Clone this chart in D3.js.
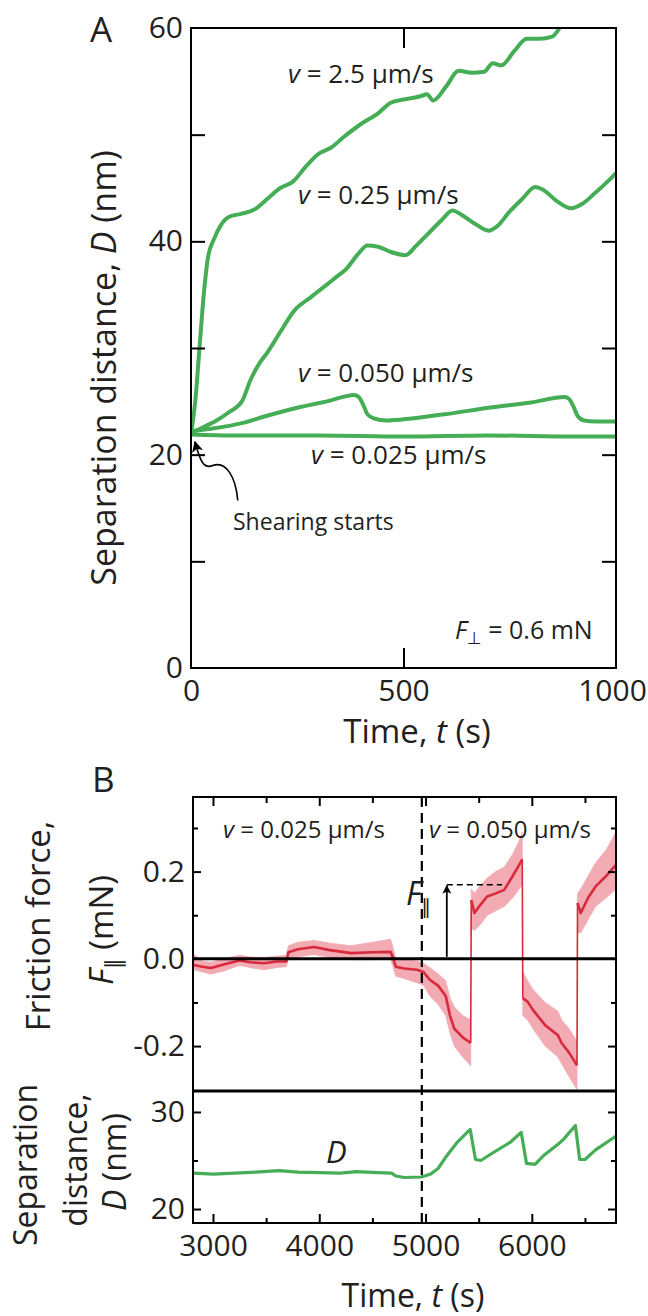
<!DOCTYPE html>
<html><head><meta charset="utf-8">
<script src="https://cdn.jsdelivr.net/npm/d3@7"></script>
<style>
body{margin:0;background:#fff}
svg{display:block}
text{font-family:"Open Sans",sans-serif;fill:#231f20}
</style>
</head><body>
<svg id="c" width="648" height="1316"></svg>
<script>
// ---------- Panel A data: time (s), separation distance D (nm) ----------
const curveV2_5 = [[0,22],[10,25],[20,30],[30,35],[40,38.5],[55,40.3],[70,41.5],[90,42.3],[120,42.6],[150,43],[180,44],[210,45],[240,45.6],[270,47],[300,48.2],[330,48.8],[360,49.8],[400,51],[440,52],[470,53],[500,53.3],[540,53.6],[555,53.8],[570,53.2],[600,54.5],[630,56],[660,55.8],[690,55.9],[710,56.7],[730,56.5],[760,57.8],[790,59],[820,59],[850,59.2],[870,60.2]];
const curveV0_25 = [[0,22],[30,22.6],[60,23.2],[90,24],[120,25],[140,27],[160,28.5],[180,29.6],[210,31.5],[245,33.6],[280,34.7],[315,35.8],[340,36.6],[365,37.4],[395,38.9],[415,39.6],[440,39.5],[470,39],[505,38.7],[530,39.6],[560,40.8],[590,42],[615,42.9],[640,42.4],[670,41.6],[700,41],[720,41.4],[750,42.8],[780,44],[810,45.1],[830,44.8],[860,43.8],[895,43.1],[920,43.5],[950,44.5],[980,45.6],[1000,46.4]];
const curveV0_050 = [[0,22.2],[40,22.4],[90,22.7],[125,23],[175,23.6],[250,24.4],[320,25],[385,25.6],[395,25.4],[405,24.7],[415,23.8],[430,23.4],[460,23.2],[520,23.4],[600,23.8],[700,24.4],[800,24.9],[880,25.4],[890,25.2],[900,24.5],[910,23.6],[925,23.2],[950,23.1],[1000,23.1]];
const curveV0_025 = [[0,21.9],[100,21.8],[300,21.8],[500,21.7],[700,21.8],[900,21.7],[1000,21.7]];
const tickValsA_y = [0,20,40,60];
const tickValsA_x = [0,500,1000];

// ---------- Panel B data: friction force [t, mean, low, high] (mN) ----------
const fricSeg1 = [[2820,-0.014,-0.025,0.01],[2900,-0.018,-0.03,-0.005],[2980,-0.021,-0.035,-0.008],[3100,-0.013,-0.028,0.0],[3250,-0.004,-0.015,0.008],[3350,-0.008,-0.02,0.004],[3480,-0.01,-0.025,0.003],[3600,-0.006,-0.02,0.006],[3690,-0.006,-0.018,0.008],[3710,0.015,0.0,0.03],[3800,0.022,0.005,0.038],[3950,0.027,0.01,0.042],[4100,0.02,0.003,0.036],[4300,0.013,-0.002,0.03],[4500,0.015,-0.002,0.038],[4670,0.016,0.0,0.045],[4690,0.005,-0.015,0.03],[4720,-0.018,-0.04,0.0],[4800,-0.022,-0.045,-0.002],[4920,-0.025,-0.055,-0.005],[4980,-0.03,-0.06,-0.01],[5040,-0.048,-0.085,-0.02],[5120,-0.062,-0.105,-0.035],[5190,-0.085,-0.13,-0.05],[5230,-0.13,-0.17,-0.09],[5270,-0.16,-0.2,-0.11],[5350,-0.18,-0.225,-0.13],[5425,-0.193,-0.245,-0.14]];
const fricSeg2 = [[5430,0.135,0.07,0.16],[5460,0.105,0.065,0.15],[5520,0.125,0.08,0.17],[5580,0.143,0.1,0.185],[5660,0.15,0.11,0.2],[5740,0.158,0.12,0.21],[5820,0.19,0.14,0.24],[5880,0.215,0.16,0.27],[5910,0.228,0.17,0.29]];
const fricSeg3 = [[5915,-0.09,-0.13,-0.03],[5960,-0.098,-0.14,-0.05],[6010,-0.117,-0.16,-0.07],[6125,-0.152,-0.2,-0.1],[6245,-0.175,-0.225,-0.12],[6280,-0.193,-0.24,-0.14],[6350,-0.215,-0.27,-0.16],[6425,-0.244,-0.3,-0.19]];
const fricSeg4 = [[6430,0.128,0.06,0.15],[6460,0.105,0.06,0.16],[6530,0.14,0.09,0.19],[6600,0.166,0.12,0.22],[6700,0.19,0.14,0.25],[6790,0.215,0.16,0.29]];
// ---------- Panel B data: separation distance [t, D (nm)] ----------
const distB = [[2820,23.7],[3000,23.6],[3200,23.7],[3400,23.8],[3620,23.95],[3800,23.8],[4000,23.75],[4200,23.7],[4350,23.85],[4550,23.75],[4680,23.7],[4720,23.4],[4800,23.25],[4960,23.3],[5050,23.6],[5120,24.2],[5200,25.5],[5300,26.9],[5420,28.2],[5470,25.1],[5520,25],[5650,25.9],[5800,26.9],[5900,27.9],[5950,24.7],[6030,24.6],[6120,25.6],[6250,26.7],[6300,27.2],[6410,28.6],[6450,25.1],[6500,25.1],[6600,26.1],[6790,27.5]];
const tickValsF = [-0.2,0.0,0.2];
const tickValsD = [20,30];
const tickValsB_x = [3000,4000,5000,6000];
const velocityChangeTime = 4965;
const fMarkerTime = 5200, fMarkerValue = 0.17, fMarkerEnd = 5720;

const GREEN = "#45ad55", RED = "#d82a3c", PINK = "#f2aab3";
const svg = d3.select("#c");
const defs = svg.append("defs");
defs.append("marker").attr("id","ah").attr("viewBox","0 0 10 10").attr("refX",9).attr("refY",5)
  .attr("markerWidth",5).attr("markerHeight",6).attr("orient","auto").attr("markerUnits","strokeWidth")
  .append("path").attr("d","M0,0 L10,5 L0,10 L2.5,5 Z").attr("fill","#000");
defs.append("marker").attr("id","ah2").attr("viewBox","0 0 10 10").attr("refX",9).attr("refY",5)
  .attr("markerWidth",7).attr("markerHeight",7).attr("orient","auto").attr("markerUnits","strokeWidth")
  .append("path").attr("d","M0,0 L10,5 L0,10 L2.5,5 Z").attr("fill","#000");

function ticks(g, axis){ g.call(axis); g.select(".domain").remove(); g.attr("color","#000"); g.selectAll("line").attr("stroke-width",2); g.selectAll("text").remove(); }
function labels(g, axis, size){ g.call(axis); g.select(".domain").remove(); g.selectAll("line").remove();
  g.selectAll("text").attr("font-family","Open Sans").attr("font-size",size).attr("fill","#231f20"); }

// ================= Panel A =================
const xA = d3.scaleLinear([0,1000],[191,616]);
const yA = d3.scaleLinear([0,60],[668,28]);
defs.append("clipPath").attr("id","clipA").append("rect").attr("x",191).attr("y",28).attr("width",425).attr("height",640);

const lineA = d3.line().x(d=>xA(d[0])).y(d=>yA(d[1])).curve(d3.curveMonotoneX);
const gA = svg.append("g").attr("clip-path","url(#clipA)");
[curveV2_5, curveV0_25, curveV0_050, curveV0_025].forEach(c=>{
  gA.append("path").attr("d",lineA(c)).attr("fill","none").attr("stroke",GREEN).attr("stroke-width",4).attr("stroke-linejoin","round");
});

svg.append("g").attr("transform","translate(191,0)").call(g=>ticks(g,d3.axisRight(yA).tickValues([10,20,30,40,50]).tickSize(14)));
svg.append("g").attr("transform","translate(616,0)").call(g=>ticks(g,d3.axisLeft(yA).tickValues([10,20,30,40,50]).tickSize(14)));
svg.append("g").attr("transform","translate(0,28)").call(g=>ticks(g,d3.axisBottom(xA).tickValues([500]).tickSize(20)));
svg.append("g").attr("transform","translate(0,668)").call(g=>ticks(g,d3.axisTop(xA).tickValues([500]).tickSize(20)));
svg.append("rect").attr("x",191).attr("y",28).attr("width",425).attr("height",640).attr("fill","none").attr("stroke","#000").attr("stroke-width",2);

svg.append("g").attr("transform","translate(191,0)").call(g=>labels(g,d3.axisLeft(yA).tickValues(tickValsA_y).tickSize(0).tickPadding(8).tickFormat(d3.format("d")),30));
svg.append("g").attr("transform","translate(0,668)").call(g=>{
  labels(g,d3.axisBottom(xA).tickValues(tickValsA_x).tickSize(0).tickPadding(12).tickFormat(d3.format("d")),30);
  g.selectAll("text").filter(d=>d===1000).attr("dx",-4);
});

svg.append("text").attr("x",90).attr("y",42).attr("font-size",35).text("A");
const titleA = svg.append("text").attr("transform","translate(116,368) rotate(-90)").attr("text-anchor","middle").attr("font-size",34);
titleA.append("tspan").text("Separation distance, ");
titleA.append("tspan").attr("font-style","italic").text("D");
titleA.append("tspan").text("  (nm)");
const xtA = svg.append("text").attr("x",417).attr("y",743).attr("text-anchor","middle").attr("font-size",33);
xtA.append("tspan").text("Time, ");
xtA.append("tspan").attr("font-style","italic").text("t");
xtA.append("tspan").text(" (s)");

function vLabel(x,y,size,val){
  const t = svg.append("text").attr("x",x).attr("y",y).attr("font-size",size);
  t.append("tspan").attr("font-style","italic").text("v");
  t.append("tspan").text(" = "+val+" µm/s");
  return t;
}
vLabel(288,83,26,"2.5");
vLabel(298,204,26,"0.25");
vLabel(298,382,26,"0.050");
vLabel(311,464,26,"0.025");

svg.append("text").attr("x",233).attr("y",530).attr("font-size",23).text("Shearing starts");
// curved arrow from label to shearing start point
const sA = [xA(110), yA(15.7)], tA = [xA(7), yA(21.3)];
svg.append("path")
  .attr("d",`M${sA[0]},${sA[1]} C${sA[0]-2},${sA[1]-24} ${sA[0]-12},${sA[1]-40} ${sA[0]-25},${sA[1]-35} C${sA[0]-34},${sA[1]-31} ${tA[0]+6},${tA[1]+20} ${tA[0]+1},${tA[1]+1}`)
  .attr("fill","none").attr("stroke","#000").attr("stroke-width",1.6).attr("marker-end","url(#ah2)");

const fp = svg.append("text").attr("x",455).attr("y",639).attr("font-size",25);
fp.append("tspan").attr("font-style","italic").text("F");
fp.append("tspan").attr("font-size",17).attr("dy",5).attr("font-family","DejaVu Sans").attr("fill","#231f20").text("⊥");
fp.append("tspan").attr("dy",-5).text(" = 0.6 mN");

// ================= Panel B =================
const xB = d3.scaleLinear([2812,6792],[193,616]);
const yF = d3.scaleLinear([-0.303,0.371],[1091,797]);
const yD = d3.scaleLinear([18.56,32.16],[1223,1091]);
defs.append("clipPath").attr("id","clipF").append("rect").attr("x",193).attr("y",797).attr("width",423).attr("height",294);
defs.append("clipPath").attr("id","clipD").append("rect").attr("x",193).attr("y",1091).attr("width",423).attr("height",132);

const gF = svg.append("g").attr("clip-path","url(#clipF)");
const areaF = d3.area().x(d=>xB(d[0])).y0(d=>yF(d[2])).y1(d=>yF(d[3]));
const lineF = d3.line().x(d=>xB(d[0])).y(d=>yF(d[1]));
const segs = [fricSeg1,fricSeg2,fricSeg3,fricSeg4];
segs.forEach(s=>gF.append("path").attr("d",areaF(s)).attr("fill",PINK).attr("stroke",PINK).attr("stroke-width",0.8));
for(let i=0;i<segs.length-1;i++){
  const a = segs[i][segs[i].length-1], b = segs[i+1][0];
  gF.append("line").attr("x1",xB(a[0])).attr("y1",yF(a[1])).attr("x2",xB(b[0])).attr("y2",yF(b[1])).attr("stroke",RED).attr("stroke-width",1.6);
}
segs.forEach(s=>gF.append("path").attr("d",lineF(s)).attr("fill","none").attr("stroke",RED).attr("stroke-width",2.6).attr("stroke-linejoin","round"));

const gD = svg.append("g").attr("clip-path","url(#clipD)");
gD.append("path").attr("d",d3.line().x(d=>xB(d[0])).y(d=>yD(d[1]))(distB)).attr("fill","none").attr("stroke",GREEN).attr("stroke-width",3.2).attr("stroke-linejoin","round");

// zero line and separator
svg.append("line").attr("x1",193).attr("x2",616).attr("y1",yF(0)).attr("y2",yF(0)).attr("stroke","#000").attr("stroke-width",3);
svg.append("line").attr("x1",193).attr("x2",616).attr("y1",1091).attr("y2",1091).attr("stroke","#000").attr("stroke-width",3);
// dashed velocity change line
svg.append("line").attr("x1",xB(velocityChangeTime)).attr("x2",xB(velocityChangeTime)).attr("y1",797).attr("y2",1223)
  .attr("stroke","#000").attr("stroke-width",2.2).attr("stroke-dasharray","10,6");

// ticks panel B
const minorX = d3.range(3000,6501,500).filter(v=>v%1000!==0);
svg.append("g").attr("transform","translate(0,797)").call(g=>ticks(g,d3.axisBottom(xB).tickValues([3000,4000,5000,6000]).tickSize(9)));
svg.append("g").attr("transform","translate(0,797)").call(g=>ticks(g,d3.axisBottom(xB).tickValues(minorX).tickSize(6)));
svg.append("g").attr("transform","translate(0,1223)").call(g=>ticks(g,d3.axisTop(xB).tickValues([3000,4000,5000,6000]).tickSize(9)));
svg.append("g").attr("transform","translate(0,1223)").call(g=>ticks(g,d3.axisTop(xB).tickValues(minorX).tickSize(5)));
[[193,d3.axisRight],[616,d3.axisLeft]].forEach(([x,ax])=>{
  svg.append("g").attr("transform",`translate(${x},0)`).call(g=>ticks(g,ax(yF).tickValues([-0.2,0.2]).tickSize(8)));
  svg.append("g").attr("transform",`translate(${x},0)`).call(g=>ticks(g,ax(yF).tickValues([-0.1,0.1,0.3]).tickSize(5)));
  svg.append("g").attr("transform",`translate(${x},0)`).call(g=>ticks(g,ax(yD).tickValues([20,30]).tickSize(8)));
  svg.append("g").attr("transform",`translate(${x},0)`).call(g=>ticks(g,ax(yD).tickValues([25]).tickSize(5)));
});
svg.append("rect").attr("x",193).attr("y",797).attr("width",423).attr("height",426).attr("fill","none").attr("stroke","#000").attr("stroke-width",2);

const fmtF = v => d3.format(".1f")(v).replace("\u2212","-");
svg.append("g").attr("transform","translate(193,0)").call(g=>labels(g,d3.axisLeft(yF).tickValues(tickValsF).tickSize(0).tickPadding(8).tickFormat(fmtF),30));
svg.append("g").attr("transform","translate(193,0)").call(g=>labels(g,d3.axisLeft(yD).tickValues(tickValsD).tickSize(0).tickPadding(8).tickFormat(d3.format("d")),30));
svg.append("g").attr("transform","translate(0,1223)").call(g=>labels(g,d3.axisBottom(xB).tickValues(tickValsB_x).tickSize(0).tickPadding(12).tickFormat(d3.format("d")),30));

svg.append("text").attr("x",92).attr("y",792).attr("font-size",35).text("B");
// y titles
svg.append("text").attr("transform","translate(50,926) rotate(-90)").attr("text-anchor","middle").attr("font-size",33).text("Friction force,");
const ft2 = svg.append("text").attr("transform","translate(113,930) rotate(-90)").attr("text-anchor","middle").attr("font-size",33);
ft2.append("tspan").attr("font-style","italic").text("F");
ft2.append("tspan").attr("font-size",22).attr("dy",8).attr("font-family","DejaVu Sans").text("∥");
ft2.append("tspan").attr("dy",-8).text(" (mN)");
svg.append("text").attr("transform","translate(37,1165) rotate(-90)").attr("text-anchor","middle").attr("font-size",32).text("Separation");
svg.append("text").attr("transform","translate(87,1160) rotate(-90)").attr("text-anchor","middle").attr("font-size",32).text("distance,");
const dt3 = svg.append("text").attr("transform","translate(126,1162) rotate(-90)").attr("text-anchor","middle").attr("font-size",32);
dt3.append("tspan").attr("font-style","italic").text("D");
dt3.append("tspan").text(" (nm)");
const xtB = svg.append("text").attr("x",413).attr("y",1307).attr("text-anchor","middle").attr("font-size",32);
xtB.append("tspan").text("Time, ");
xtB.append("tspan").attr("font-style","italic").text("t");
xtB.append("tspan").text(" (s)");

vLabel(223,838,24,"0.025");
vLabel(429,838,24,"0.050");

// F parallel marker
svg.append("line").attr("x1",xB(fMarkerTime)).attr("x2",xB(fMarkerTime)).attr("y1",yF(0)-2).attr("y2",yF(fMarkerValue)+1)
  .attr("stroke","#000").attr("stroke-width",1.8).attr("marker-end","url(#ah)");
svg.append("line").attr("x1",xB(fMarkerTime)).attr("x2",xB(fMarkerEnd)).attr("y1",yF(fMarkerValue)).attr("y2",yF(fMarkerValue))
  .attr("stroke","#000").attr("stroke-width",1.5).attr("stroke-dasharray","6,4");
const fpar = svg.append("text").attr("x",406).attr("y",905).attr("font-size",32);
fpar.append("tspan").attr("font-style","italic").text("F");
fpar.append("tspan").attr("font-size",20).attr("dy",9).attr("font-family","DejaVu Sans").text("∥");

svg.append("text").attr("x",326).attr("y",1163).attr("font-size",31).attr("font-style","italic").text("D");
</script>
</body></html>
